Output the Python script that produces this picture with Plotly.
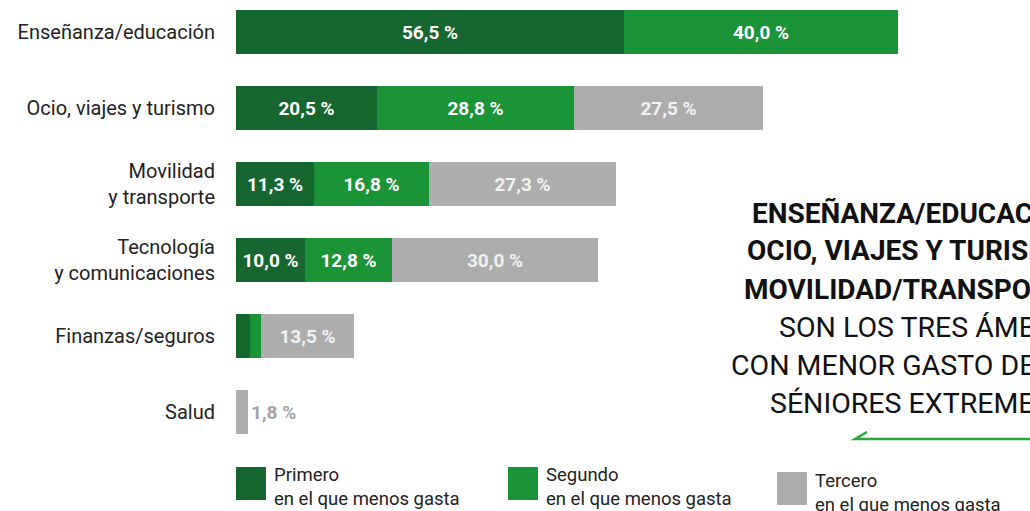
import plotly.graph_objects as go

# ---------------- data ----------------
categories = ["Enseñanza/educación", "Ocio, viajes y turismo", "Movilidad<br>y transporte",
              "Tecnología<br>y comunicaciones", "Finanzas/seguros", "Salud"]
primero = [56.5, 20.5, 11.3, 10.0, 2.0, None]
segundo = [40.0, 28.8, 16.8, 12.8, 1.7, None]
tercero = [None, 27.5, 27.3, 30.0, 13.5, 1.8]
series_names = ["Primero", "Segundo", "Tercero"]
legend_sub = "en el que menos gasta"
hidden_labels = {("Primero", "Finanzas/seguros"), ("Segundo", "Finanzas/seguros")}
headline_bold = ["ENSEÑANZA/EDUCACIÓN,", "OCIO, VIAJES Y TURISMO,", "MOVILIDAD/TRANSPORTE"]
headline_regular = ["SON LOS TRES ÁMBITOS", "CON MENOR GASTO DE LOS", "SÉNIORES EXTREMEÑOS"]

# ---------------- style ----------------
W, H = 1030, 511
ML, MR, MT, MB = 236, 0, 0, 61
PW, PH = W - ML - MR, H - MT - MB
PX_PER_UNIT = 6.86
colors = ["#17662f", "#1b9437", "#adadad"]
base_font = "Roboto, sans-serif"


def fmt(v):
    return f"{v:.1f}".replace(".", ",") + " %"


def px(x):
    return (x - ML) / PW


def py(y):
    return (H - MB - y) / PH


fig = go.Figure()
for name, vals, col in zip(series_names, [primero, segundo, tercero], colors):
    texts, positions = [], []
    for cat, v in zip(categories, vals):
        if v is None or (name, cat) in hidden_labels:
            texts.append("")
        else:
            texts.append(fmt(v))
        positions.append("outside" if (v is not None and v < 5) else "inside")
    fig.add_trace(go.Bar(
        y=categories, x=vals, orientation="h", name=name,
        marker=dict(color=col, line=dict(width=0)),
        width=0.57,
        text=texts, textposition=positions, textangle=0,
        insidetextanchor="middle",
        insidetextfont=dict(family=base_font, size=19,
                            color="#f2f2f2" if name == "Tercero" else "white", weight="bold"),
        outsidetextfont=dict(family=base_font, size=19, color="#a3a3a3", weight="bold"),
        cliponaxis=False, showlegend=False, hoverinfo="skip",
    ))

shapes, annotations = [], []
# legend
leg_x = [236, 508, 777]
leg_y = [(467, 500), (467, 500), (472, 505)]
for name, col, x0, (y0, y1) in zip(series_names, colors, leg_x, leg_y):
    shapes.append(dict(type="rect", xref="paper", yref="paper",
                       x0=px(x0), x1=px(x0 + 30), y0=py(y1), y1=py(y0),
                       fillcolor=col, line=dict(width=0)))
    annotations.append(dict(xref="paper", yref="paper", x=px(x0 + 36), y=py((y0 + y1) / 2 + 4),
                            text=f"{name}<br>{legend_sub}", showarrow=False,
                            xanchor="left", yanchor="middle", align="left",
                            font=dict(family=base_font, size=18.5, color="#222")))

# headline on the right
bold_x = [750, 745, 742]
reg_x = [777, 729, 768]
row_y = [213, 251, 289, 327, 365, 403]
for i, (t, x0) in enumerate(zip(headline_bold, bold_x)):
    annotations.append(dict(xref="paper", yref="paper", x=px(x0), y=py(row_y[i]),
                            text=f"<b>{t}</b>", showarrow=False, xanchor="left", yanchor="middle",
                            font=dict(family=base_font, size=28, color="#111")))
for i, (t, x0) in enumerate(zip(headline_regular, reg_x)):
    annotations.append(dict(xref="paper", yref="paper", x=px(x0), y=py(row_y[i + 3]),
                            text=t, showarrow=False, xanchor="left", yanchor="middle",
                            font=dict(family=base_font, size=28.5, color="#111")))
shapes.append(dict(type="path", xref="paper", yref="paper",
                   path=f"M {px(867)} {py(432)} L {px(855)} {py(439)} L {px(1035)} {py(439)}",
                   line=dict(color="#2aa83c", width=2.5)))

fig.update_layout(
    width=W, height=H, barmode="stack", bargap=0,
    margin=dict(l=ML, r=MR, t=MT, b=MB, pad=0),
    plot_bgcolor="white", paper_bgcolor="white",
    xaxis=dict(range=[0, PW / PX_PER_UNIT], visible=False, fixedrange=True),
    yaxis=dict(range=[5.5, 5.5 - PH / 76], showgrid=False, zeroline=False, showline=False,
               ticks="", ticklabelstandoff=20, fixedrange=True,
               tickfont=dict(family=base_font, size=20, color="#222")),
    shapes=shapes, annotations=annotations,
)

fig.write_html("out.html", config={"displayModeBar": False},
               post_script="document.body.style.margin='0';")
